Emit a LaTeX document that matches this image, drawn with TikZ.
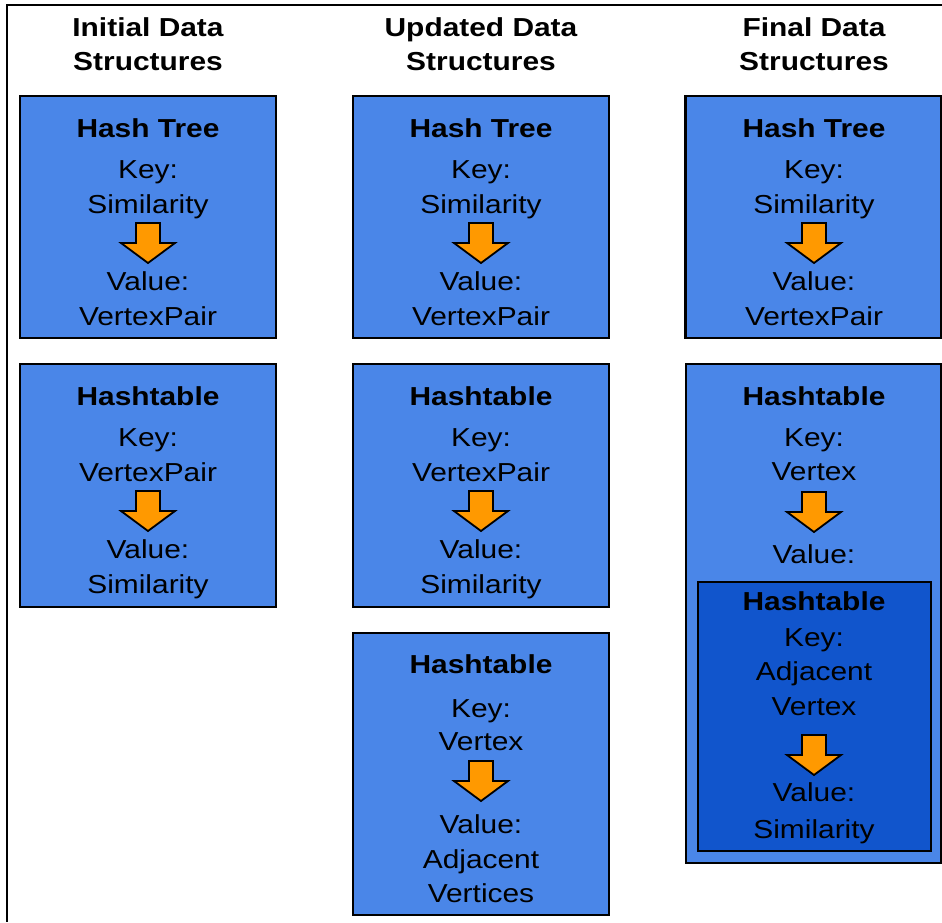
\documentclass[tikz,border=0pt]{standalone}
\usepackage{fontspec}
\setmainfont{Liberation Sans}[FakeStretch=1.15]
\usetikzlibrary{positioning}
\definecolor{boxblue}{HTML}{4A86E8}
\definecolor{innerblue}{HTML}{1155CC}
\definecolor{flowor}{HTML}{FF9900}
\tikzstyle{frame}=[draw=black,line width=1pt]
\tikzstyle{box}=[draw=black,line width=1.2pt,fill=boxblue,minimum width=128pt,inner sep=0pt]
\tikzstyle{innerbox}=[box,fill=innerblue,minimum width=116.5pt]
\tikzstyle{lbl}=[anchor=base,inner sep=0pt,font=\fontsize{13}{16}\selectfont]
\tikzstyle{heading}=[lbl,font=\fontsize{13}{16}\selectfont\bfseries]
\tikzstyle{flow}=[draw=black,line width=0.9pt,fill=flowor,line join=miter]

\begin{document}
\begin{tikzpicture}[x=0.5pt,y=-0.5pt]
	\useasboundingbox (0,0) rectangle (942,922);
	\draw[frame] (942,5) -- (7,5) -- (7,922);

	% First we draw the boxes
	\foreach \pos/\hgt/\name in {{(148,217)/121/tree1}, {(148,485.5)/121.5/table1},
							{(481,217)/121/tree2}, {(481,485.5)/121.5/table2}, {(481,774)/141/adj2},
							{(813.5,217)/121/tree3}}
	\node[box,minimum height=\hgt pt] (\name) at \pos {};
	\node[box,minimum width=127.5pt,minimum height=249.5pt] (table3) at (813.5,613.5) {};
	\node[innerbox,minimum height=134.5pt] (inner3) at (814.5,716.5) {};

	% Column headings and box titles
	\foreach \x/\y/\txt in {148/36/Initial Data, 148/70/Structures,
							481/36/Updated Data, 481/70/Structures,
							814/36/Final Data, 814/70/Structures,
							148/137/Hash Tree, 481/137/Hash Tree, 814/137/Hash Tree,
							148/405/Hashtable, 481/405/Hashtable, 814/405/Hashtable,
							481/673/Hashtable, 814/610/Hashtable}
	\node[heading] at (\x,\y) {\txt};

	% Keys and values
	\foreach \x/\y/\txt in {148/178/Key:, 148/213/Similarity, 148/290/Value:, 148/325/VertexPair,
							481/178/Key:, 481/213/Similarity, 481/290/Value:, 481/325/VertexPair,
							814/178/Key:, 814/213/Similarity, 814/290/Value:, 814/325/VertexPair,
							148/446/Key:, 148/481/VertexPair, 148/558/Value:, 148/593/Similarity,
							481/446/Key:, 481/481/VertexPair, 481/558/Value:, 481/593/Similarity,
							481/717/Key:, 481/750/Vertex, 481/833/Value:, 481/868/Adjacent, 481/902/Vertices,
							814/446/Key:, 814/480/Vertex, 814/563/Value:,
							814/646/Key:, 814/680/Adjacent, 814/715/Vertex, 814/801/Value:, 814/838/Similarity}
	\node[lbl] at (\x,\y) {\txt};

	% Orange arrows from key to value
	\foreach \x/\y in {148/223, 481/223, 814/223, 148/491, 481/491, 814/492, 481/761, 814/735}
	\draw[flow] (\x,\y) ++(-12,0) -- ++(24,0) -- ++(0,20) -- ++(15,0) -- ++(-27,20) -- ++(-27,-20) -- ++(15,0) -- cycle;
\end{tikzpicture}
\end{document}
